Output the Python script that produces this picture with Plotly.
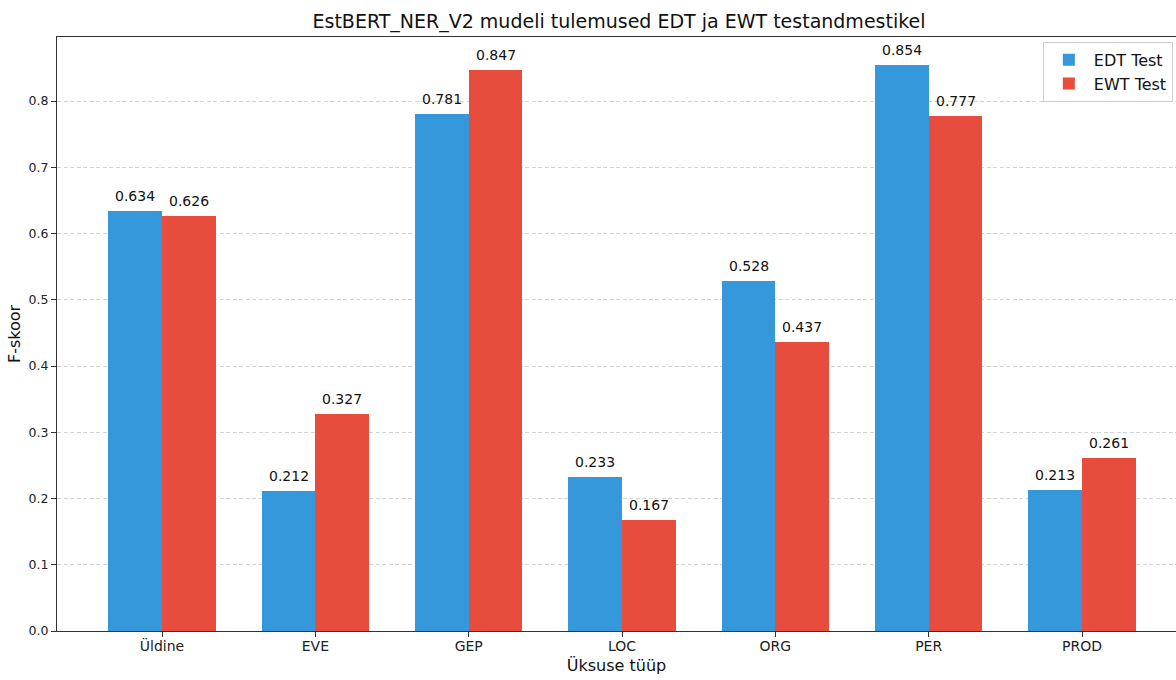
import plotly.graph_objects as go

# Entity types and F-scores of the EstBERT_NER_V2 model on the two test sets
categories = ["Üldine", "EVE", "GEP", "LOC", "ORG", "PER", "PROD"]
edt_scores = [0.634, 0.212, 0.781, 0.233, 0.528, 0.854, 0.213]
ewt_scores = [0.626, 0.327, 0.847, 0.167, 0.437, 0.777, 0.261]
y_ticks = [0.0, 0.1, 0.2, 0.3, 0.4, 0.5, 0.6, 0.7, 0.8]

BLUE = "#3498db"
RED = "#e74c3c"
FONT = "DejaVu Sans"
BAR_W = 0.35

idx = list(range(len(categories)))
edt_x = [i - BAR_W / 2 for i in idx]
ewt_x = [i + BAR_W / 2 for i in idx]

fig = go.Figure()
fig.add_trace(go.Bar(x=edt_x, y=edt_scores, width=BAR_W, name="EDT Test",
                     marker=dict(color=BLUE, line=dict(width=0))))
fig.add_trace(go.Bar(x=ewt_x, y=ewt_scores, width=BAR_W, name="EWT Test",
                     marker=dict(color=RED, line=dict(width=0))))

# value labels above each bar
annotations = []
for xs, vals in ((edt_x, edt_scores), (ewt_x, ewt_scores)):
    for x, v in zip(xs, vals):
        annotations.append(dict(
            x=x, y=v, xref="x", yref="y", text=f"{v:.3f}", showarrow=False,
            yanchor="bottom", yshift=5,
            font=dict(family=FONT, size=14, color="#111"),
        ))

ymax = max(edt_scores + ewt_scores) * 1.05

fig.update_layout(
    width=1176, height=680,
    margin=dict(l=57, r=0, t=37, b=49),
    paper_bgcolor="white", plot_bgcolor="white",
    barmode="overlay", bargap=0,
    font=dict(family=FONT, color="#111"),
    title=dict(text="EstBERT_NER_V2 mudeli tulemused EDT ja EWT testandmestikel",
               xref="container", x=619 / 1176, xanchor="center",
               yref="container", y=1 - 21 / 680, yanchor="middle",
               font=dict(family=FONT, size=19, color="#111")),
    xaxis=dict(
        range=[-0.685, 6.613],
        tickmode="array", tickvals=idx, ticktext=categories,
        tickfont=dict(family=FONT, size=14, color="#222"),
        ticks="outside", ticklen=5, tickwidth=1, tickcolor="#333",
        ticklabelstandoff=-3,
        showline=True, linecolor="#333", linewidth=1, mirror=True,
        showgrid=False, zeroline=False,
        title=dict(text="Üksuse tüüp", standoff=7,
                   font=dict(family=FONT, size=16, color="#111")),
    ),
    yaxis=dict(
        range=[0, ymax],
        tickmode="array", tickvals=y_ticks, ticktext=[f"{t:.1f}" for t in y_ticks],
        tickfont=dict(family=FONT, size=12.5, color="#222"),
        ticks="outside", ticklen=5, tickwidth=1, tickcolor="#333",
        showline=True, linecolor="#333", linewidth=1, mirror=False,
        showgrid=True, gridcolor="rgba(200,200,200,0.8)", griddash="4px,2.5px", gridwidth=1,
        zeroline=False,
        title=dict(text="F-skoor", standoff=4,
                   font=dict(family=FONT, size=16, color="#111")),
    ),
    legend=dict(
        x=0.881, y=0.992, xanchor="left", yanchor="top",
        bgcolor="rgba(255,255,255,0.85)", bordercolor="#d0d0d0", borderwidth=1,
        font=dict(family=FONT, size=16, color="#111"),
        itemwidth=40, tracegroupgap=2,
    ),
    annotations=annotations,
)

fig.write_html("out.html")
